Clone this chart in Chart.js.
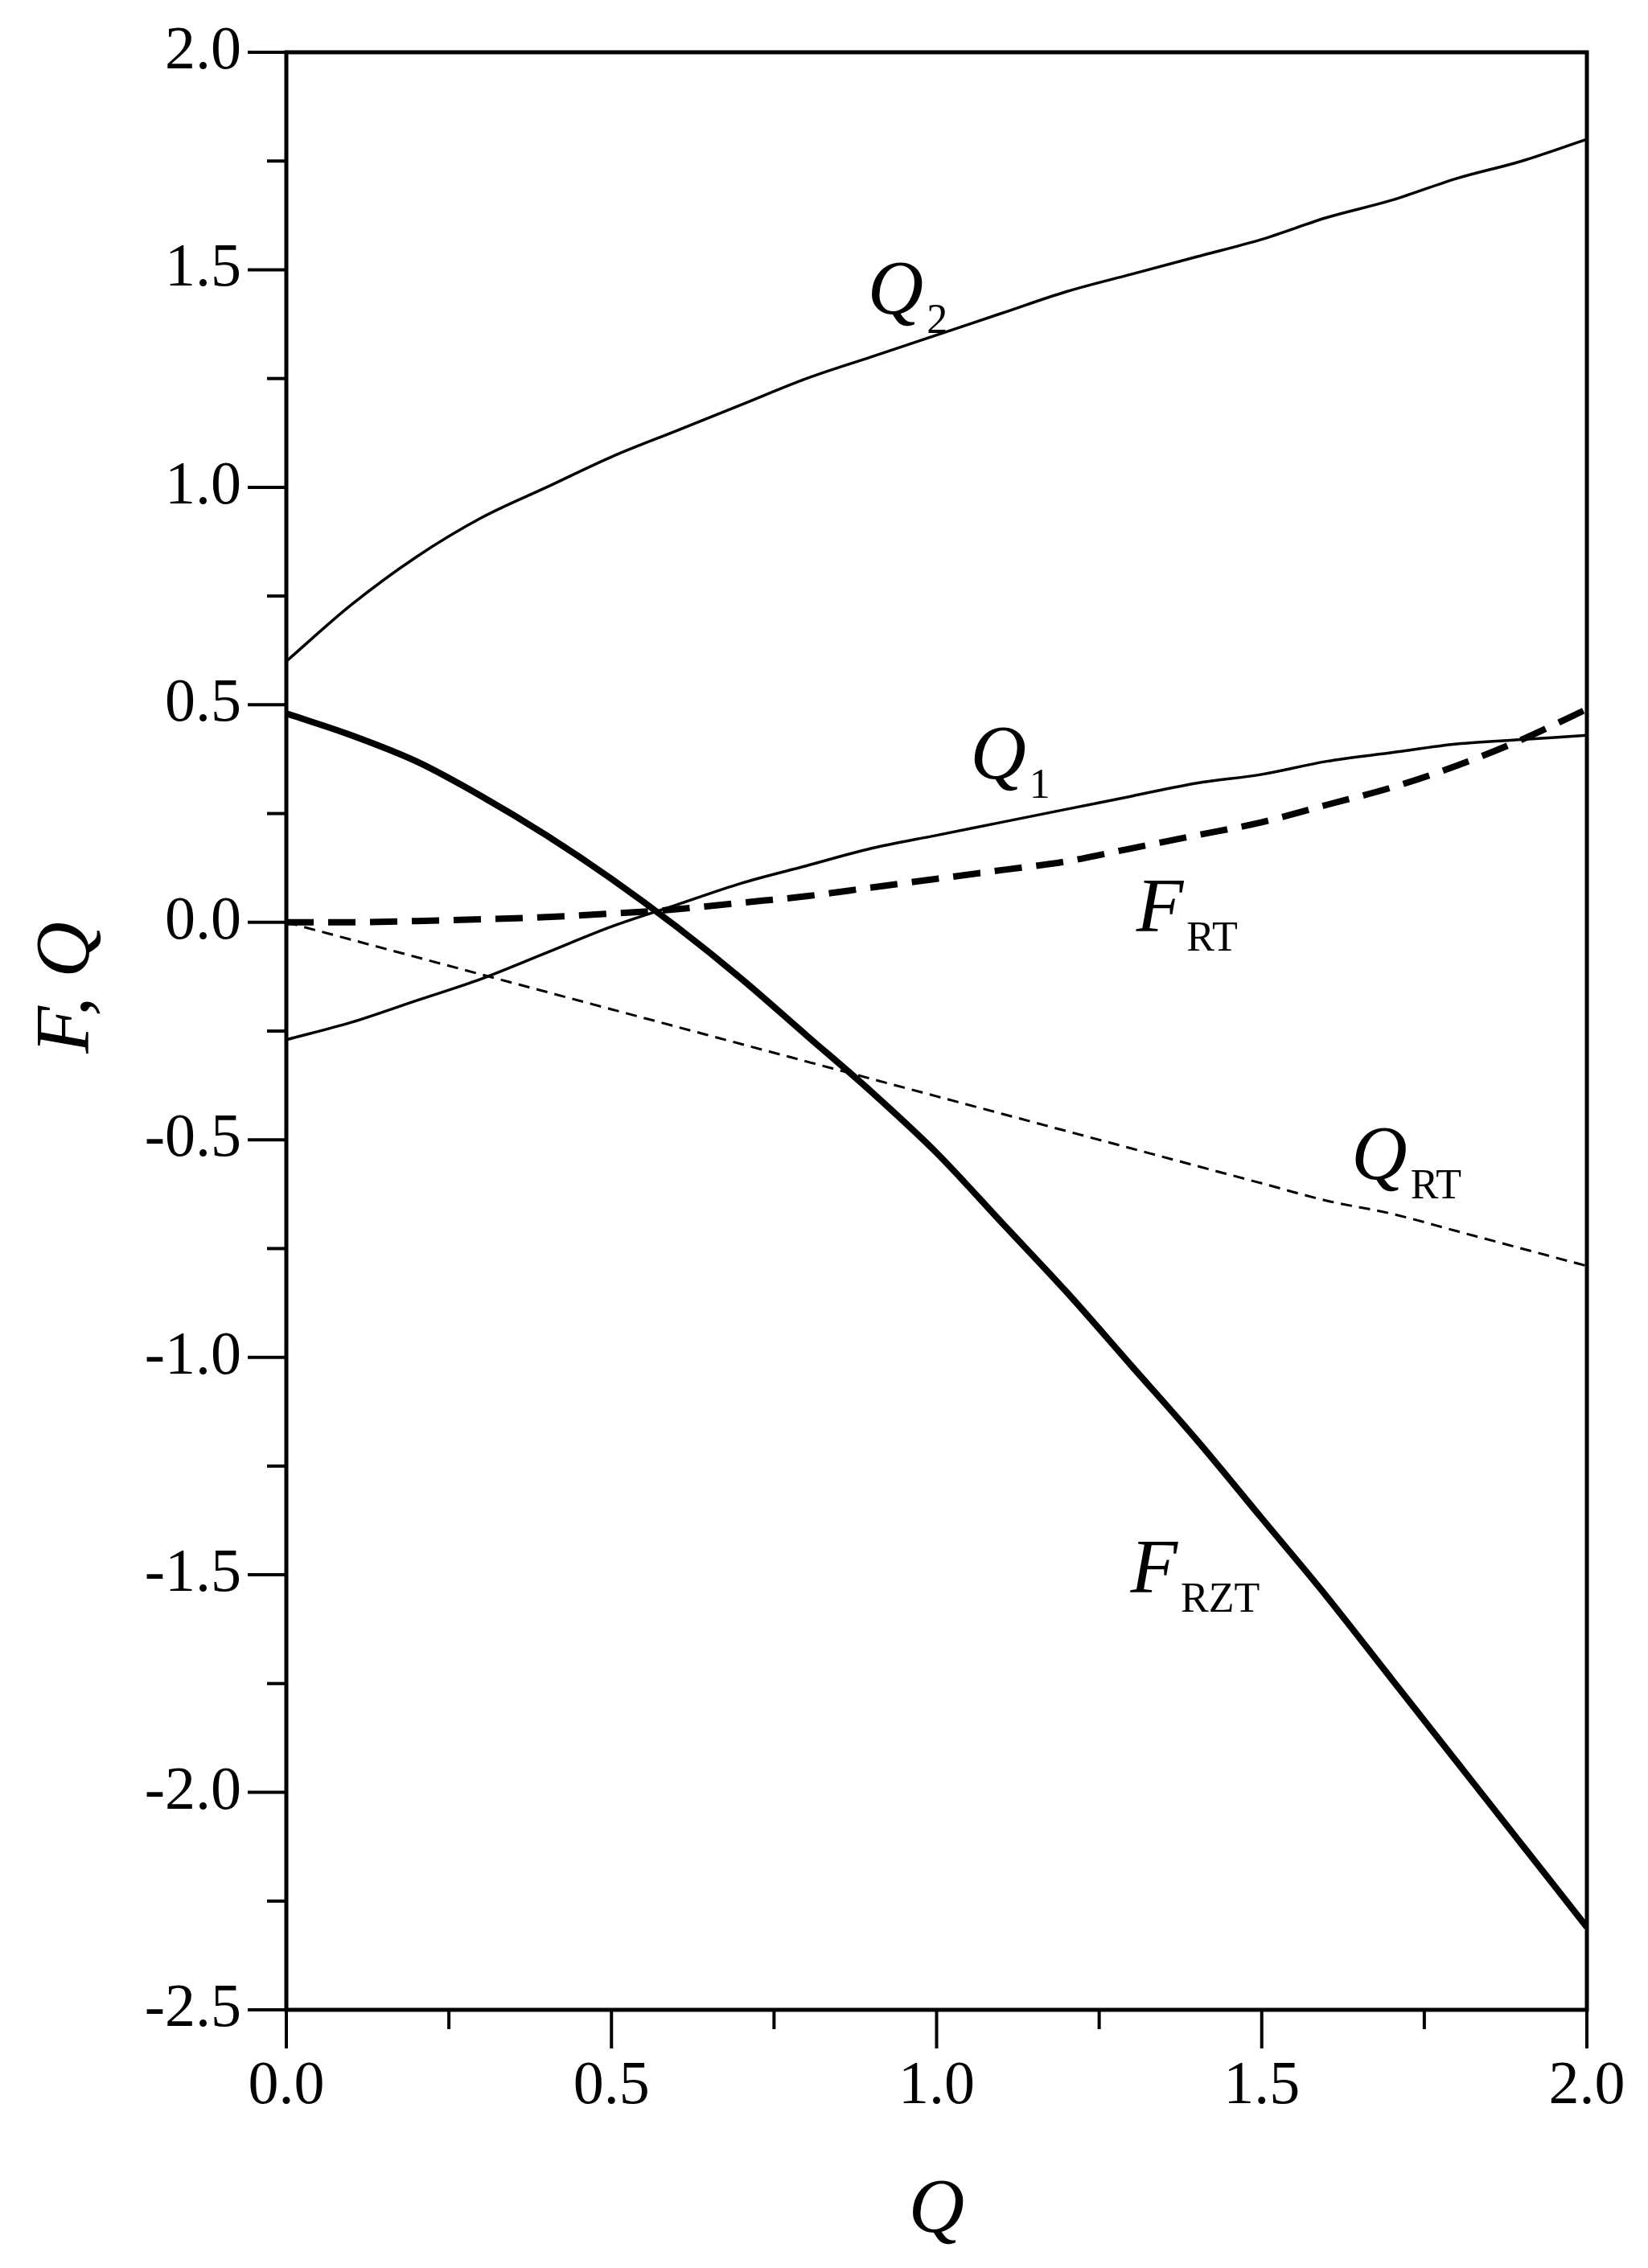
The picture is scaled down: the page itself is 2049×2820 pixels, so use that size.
<!DOCTYPE html>
<html><head><meta charset="utf-8">
<script src="https://cdn.jsdelivr.net/npm/chart.js@4"></script>
<style>html,body{margin:0;padding:0;background:#fff}#c{display:block}</style>
</head><body>
<div style="width:2049px;height:2820px"><canvas id="c" width="2049" height="2820"></canvas></div>
<script>
const xValues=[0,0.1,0.2,0.3,0.4,0.5,0.6,0.7,0.8,0.9,1.0,1.1,1.2,1.3,1.4,1.5,1.6,1.7,1.8,1.9,2.0];
const q2=[0.6,0.73,0.84,0.93,1.0,1.07,1.13,1.19,1.25,1.30,1.35,1.40,1.45,1.49,1.53,1.57,1.62,1.66,1.71,1.75,1.80];
const q1=[-0.27,-0.23,-0.18,-0.13,-0.07,-0.01,0.04,0.09,0.13,0.17,0.20,0.23,0.26,0.29,0.32,0.34,0.37,0.39,0.41,0.42,0.43];
const fRZT=[0.48,0.43,0.37,0.29,0.20,0.10,-0.01,-0.13,-0.26,-0.39,-0.53,-0.69,-0.85,-1.02,-1.19,-1.37,-1.55,-1.74,-1.93,-2.12,-2.31];
const fRT=[0,0,0.003,0.007,0.012,0.02,0.03,0.045,0.06,0.08,0.10,0.12,0.14,0.17,0.20,0.23,0.27,0.31,0.36,0.42,0.49];
const qRT=[0,-0.04,-0.08,-0.12,-0.16,-0.20,-0.24,-0.28,-0.32,-0.36,-0.40,-0.44,-0.48,-0.52,-0.56,-0.60,-0.64,-0.67,-0.71,-0.75,-0.79];
const xTicks=[0,0.5,1.0,1.5,2.0];
const yTicks=[-2.5,-2.0,-1.5,-1.0,-0.5,0,0.5,1.0,1.5,2.0];
const labels=[
 {main:'Q',sub:'2',x:0.894,y:1.40},
 {main:'Q',sub:'1',x:1.052,y:0.33},
 {main:'F',sub:'RT',x:1.307,y:-0.02},
 {main:'Q',sub:'RT',x:1.638,y:-0.59},
 {main:'F',sub:'RZT',x:1.298,y:-1.54}
];
const pts=a=>a.map((v,i)=>({x:xValues[i],y:v}));
const FONT='"Times New Roman", "Liberation Serif", Tinos, serif';
const deco={id:'deco',afterDraw(ch){
 const c=ch.ctx,xs=ch.scales.x,ys=ch.scales.y,a=ch.chartArea;
 c.save();c.strokeStyle='#000';c.lineWidth=5;
 c.strokeRect(a.left,a.top,a.right-a.left,a.bottom-a.top);
 c.lineWidth=4;
 for(let v=-2.5;v<=2.0001;v+=0.25){const p=ys.getPixelForValue(v);const major=Math.abs(v*2-Math.round(v*2))<1e-6;
  c.beginPath();c.moveTo(a.left,p);c.lineTo(a.left-(major?48:24),p);c.stroke();}
 for(let v=0;v<=2.0001;v+=0.25){const p=xs.getPixelForValue(v);const major=Math.abs(v*2-Math.round(v*2))<1e-6;
  c.beginPath();c.moveTo(p,a.bottom);c.lineTo(p,a.bottom+(major?48:24));c.stroke();}
 c.fillStyle='#000';c.font='76px '+FONT;
 c.textAlign='right';c.textBaseline='middle';
 yTicks.forEach(v=>c.fillText(v.toFixed(1),a.left-56,ys.getPixelForValue(v)));
 c.textAlign='center';c.textBaseline='top';
 xTicks.forEach(v=>c.fillText(v.toFixed(1),xs.getPixelForValue(v),a.bottom+58));
 c.font='italic 96px '+FONT;c.textBaseline='alphabetic';
 c.fillText('Q',xs.getPixelForValue(1.0),2775);
 c.save();c.translate(110,ys.getPixelForValue(-0.15));c.rotate(-Math.PI/2);c.fillText('F, Q',0,0);c.restore();
 c.textAlign='left';
 labels.forEach(l=>{const px=xs.getPixelForValue(l.x),py=ys.getPixelForValue(l.y);
  c.font='italic 96px '+FONT;c.fillText(l.main,px,py);const w=c.measureText(l.main).width;
  c.font='52px '+FONT;c.fillText(l.sub,px+w+4,py+24);});
 c.restore();}};
const base={borderColor:'#000',pointRadius:0,cubicInterpolationMode:'monotone'};
new Chart(document.getElementById('c'),{type:'line',
 data:{datasets:[
  {...base,data:pts(q2),borderWidth:3.5},
  {...base,data:pts(q1),borderWidth:3.5},
  {...base,data:pts(fRZT),borderWidth:8},
  {...base,data:pts(fRT),borderWidth:8,borderDash:[34,18]},
  {...base,data:pts(qRT),borderWidth:3,borderDash:[14,9]}
 ]},
 options:{responsive:false,animation:false,
  layout:{padding:{left:0,top:65,right:76,bottom:0}},
  plugins:{legend:{display:false},tooltip:{enabled:false}},
  scales:{
   x:{type:'linear',min:0,max:2,grid:{display:false},border:{display:false},ticks:{display:false},afterFit(s){s.height=321;}},
   y:{type:'linear',min:-2.5,max:2,grid:{display:false},border:{display:false},ticks:{display:false},afterFit(s){s.width=356;}}
  }},
 plugins:[deco]});
</script></body></html>
